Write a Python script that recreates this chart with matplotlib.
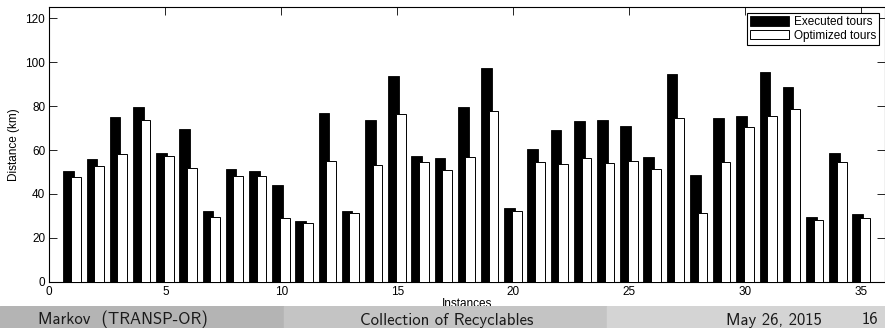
import matplotlib
matplotlib.use("Agg")
import matplotlib.pyplot as plt
import numpy as np

instances = np.arange(1, 36)
executed = [50.6, 55.8, 75.0, 79.5, 58.5, 69.5, 32.3, 51.2, 50.6, 43.9,
            27.9, 77.0, 32.1, 73.8, 93.8, 57.4, 56.4, 79.4, 97.4, 33.8,
            60.3, 69.2, 73.3, 73.6, 71.1, 56.8, 94.4, 48.5, 74.7, 75.5,
            95.6, 88.6, 29.5, 58.8, 30.8]
optimized = [47.9, 52.9, 58.0, 73.5, 57.4, 51.7, 29.5, 48.2, 48.0, 29.2,
             26.8, 55.0, 31.4, 53.3, 76.4, 54.4, 51.1, 57.0, 77.6, 32.1,
             54.5, 53.5, 56.4, 54.1, 54.8, 51.5, 74.8, 31.4, 54.7, 70.3,
             75.5, 78.5, 28.3, 54.7, 29.1]
series_labels = ["Executed tours", "Optimized tours"]
footer_left = "Markov  (TRANSP-OR)"
footer_mid = "Collection of Recyclables"
footer_date = "May 26, 2015"
footer_page = "16"

W, H = 885, 328
fig = plt.figure(figsize=(W / 100, H / 100), dpi=100)
plt.rcParams['font.family'] = ['Liberation Sans', 'DejaVu Sans']

# axes box in pixels: left 49.3, right 884.7, top 7.3, bottom 281.8
ax = fig.add_axes([49.3 / W, (H - 281.8) / H, (884.7 - 49.3) / W, (281.8 - 7.3) / H])

ax.bar(instances - 0.165, executed, width=0.46, color="black",
       edgecolor="black", linewidth=0.6, label=series_labels[0], zorder=2)
ax.bar(instances + 0.145, optimized, width=0.42, color="white",
       edgecolor="black", linewidth=0.7, label=series_labels[1], zorder=3)

ax.set_xlim(0, 36)
ax.set_ylim(0, 125)
ax.set_xticks(range(0, 36, 5))
ax.set_yticks(range(0, 121, 20))
ax.tick_params(direction="in", length=5.5, width=0.6, top=True, right=True,
               labelsize=8.5, pad=3)
for s in ax.spines.values():
    s.set_linewidth(0.8)

ax.set_xlabel("Instances", fontsize=8.5, labelpad=0)
ax.set_ylabel("Distance (km)", fontsize=8.5, labelpad=4)

leg = ax.legend(loc="upper right", bbox_to_anchor=(0.993, 0.979), fontsize=8.5,
                frameon=True, fancybox=False, framealpha=1, edgecolor="black",
                handlelength=3.3, handleheight=0.85, handletextpad=0.4,
                labelspacing=0.15, borderpad=0.25, borderaxespad=0)
leg.get_frame().set_linewidth(0.8)

# beamer footline
fh = 22
fax = fig.add_axes([0, 0, 1, fh / H], zorder=10)
fax.set_xlim(0, W)
fax.set_ylim(0, fh)
fax.axis("off")
fax.axvspan(0, 284, color="#b4b4b4")
fax.axvspan(284, 607, color="#c4c4c4")
fax.axvspan(607, W, color="#d4d4d4")
ffont = dict(family="cmss10", fontsize=12, va="baseline", color="#1a1a1a")
fax.text(123, 3.5, footer_left, ha="center", **ffont)
fax.text(447, 3.5, footer_mid, ha="center", **ffont)
fax.text(774, 3.5, footer_date, ha="center", **ffont)
fax.text(870, 3.5, footer_page, ha="center", **ffont)

fig.savefig("out.png", dpi=100)
